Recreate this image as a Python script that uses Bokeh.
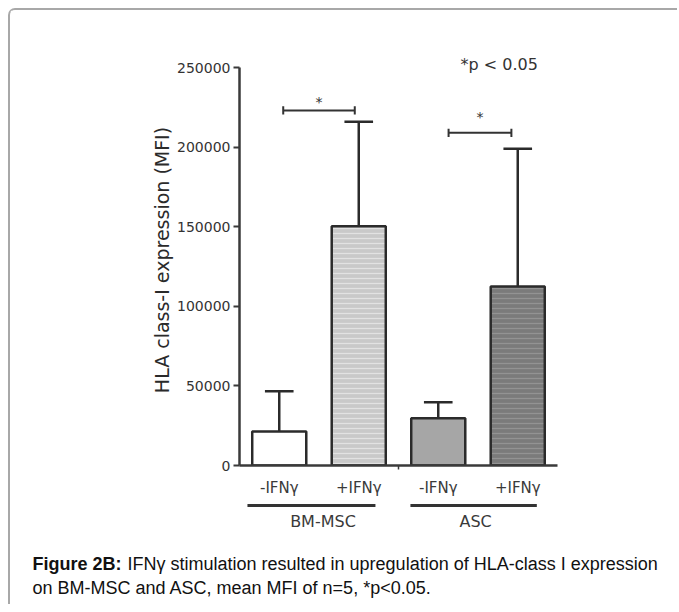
import numpy as np
from bokeh.plotting import figure
from bokeh.models import (Range1d, FixedTicker, LinearAxis, BasicTickFormatter,
                          ColumnDataSource)
from bokeh.layouts import column
from bokeh.core.properties import value
from bokeh.embed import file_html
from bokeh.resources import INLINE

# ---------------- data ----------------
conditions = ["-IFNγ", "+IFNγ", "-IFNγ", "+IFNγ"]
cell_types = ["BM-MSC", "ASC"]
mean_mfi = [21400, 150300, 29700, 112400]
sd_mfi = [25300, 65700, 10100, 86500]
y_ticks = [0, 50000, 100000, 150000, 200000, 250000]
sig_start = [1.05, 3.13]
sig_end = [1.95, 3.92]
sig_height = [223000, 209000]
star_height = [230500, 221000]
sig_note = "*p < 0.05"
y_title = "HLA class-I expression (MFI)"
caption_bold = "Figure 2B:"
caption_line1 = "IFNγ stimulation resulted in upregulation of HLA-class I expression"
caption_line2 = "on BM-MSC and ASC, mean MFI of n=5, *p<0.05."

# ---------------- styles ----------------
bar_fill = ["#ffffff", "#c9c9c9", "#a6a6a6", "#7b7b7b"]
bar_hatch = [" ", "-", " ", "-"]
bar_hatch_color = ["#ffffff", "#e2e2e2", "#a6a6a6", "#939393"]
dark = "#2b2b2b"
FONT = "DejaVu Sans"

W = 667
H1 = 489
H2 = 105
LEFT, TOP, BOTTOM = 229, 44, 34
frame_w = 318
frame_h = H1 - TOP - BOTTOM
RIGHT = W - LEFT - frame_w
x0, x1 = 0.5, 4.5
sc = frame_w / (x1 - x0)
y_px_per_unit = 398 / 250000
y_top = frame_h / y_px_per_unit

x = np.arange(1, len(mean_mfi) + 1, dtype=float)
mean = np.array(mean_mfi, dtype=float)
sd = np.array(sd_mfi, dtype=float)

p = figure(width=W, height=H1, x_range=Range1d(x0, x1), y_range=Range1d(0, y_top),
           output_backend="svg", toolbar_location=None,
           x_axis_type=None, y_axis_type=None,
           min_border_left=LEFT, min_border_right=RIGHT,
           min_border_top=TOP, min_border_bottom=BOTTOM)
p.outline_line_color = None
p.background_fill_color = "white"
p.border_fill_color = "white"
p.frame_align = False

# y axis
yaxis = LinearAxis(ticker=FixedTicker(ticks=y_ticks),
                   formatter=BasicTickFormatter(use_scientific=False),
                   bounds=(0, 250000), axis_label=y_title)
yaxis.axis_line_width = 2.5
yaxis.axis_line_color = "#3a3a3a"
yaxis.major_tick_out = 6
yaxis.major_tick_in = 0
yaxis.major_tick_line_width = 2
yaxis.major_tick_line_color = "#3a3a3a"
yaxis.minor_tick_line_color = None
yaxis.major_label_text_font = FONT
yaxis.major_label_text_font_size = "14px"
yaxis.major_label_text_color = "#333333"
yaxis.major_label_standoff = 3
yaxis.axis_label_text_font = FONT
yaxis.axis_label_text_font_size = "19px"
yaxis.axis_label_text_font_style = "normal"
yaxis.axis_label_text_color = "#2a2a2a"
yaxis.axis_label_standoff = 1
p.add_layout(yaxis, "left")

# x axis
xaxis = LinearAxis(ticker=FixedTicker(ticks=list(x), minor_ticks=[2.5]),
                   major_label_overrides={int(xi): c for xi, c in zip(x, conditions)})
xaxis.axis_line_width = 2.5
xaxis.axis_line_color = "#3a3a3a"
xaxis.major_tick_line_color = None
xaxis.major_tick_out = 0
xaxis.major_tick_in = 0
xaxis.minor_tick_out = 4
xaxis.minor_tick_in = 0
xaxis.minor_tick_line_width = 1.5
xaxis.minor_tick_line_color = "#3a3a3a"
xaxis.major_label_text_font = FONT
xaxis.major_label_text_font_size = "15px"
xaxis.major_label_text_color = "#3a3a3a"
xaxis.major_label_standoff = 9
p.add_layout(xaxis, "below")

# error bars (upper only)
cap = 0.18
p.segment(x0=x, y0=mean, x1=x, y1=mean + sd, line_color=dark, line_width=2.5)
p.segment(x0=x - cap, y0=mean + sd, x1=x + cap, y1=mean + sd, line_color=dark, line_width=2.5)

# bars
src = ColumnDataSource(dict(x=x, top=mean, fill=bar_fill, hatch=bar_hatch, hcol=bar_hatch_color))
p.vbar(x="x", top="top", bottom=0, width=0.68, source=src,
       fill_color="fill", hatch_pattern="hatch", hatch_color="hcol",
       hatch_scale=5, hatch_weight=1.2,
       line_color=dark, line_width=2.5)

# significance brackets
ss = np.array(sig_start); se = np.array(sig_end); sh = np.array(sig_height)
tick_h = 2600
p.segment(x0=ss, y0=sh, x1=se, y1=sh, line_color="#333333", line_width=2)
p.segment(x0=ss, y0=sh - tick_h, x1=ss, y1=sh + tick_h, line_color="#333333", line_width=2)
p.segment(x0=se, y0=sh - tick_h, x1=se, y1=sh + tick_h, line_color="#333333", line_width=2)
p.text(x=(ss + se) / 2, y=star_height, text=["*", "*"], text_align="center",
       text_baseline="middle", y_offset=3, text_font=value(FONT),
       text_font_size="14px", text_color="#333333")

p.text(x=[3.28], y=[252000], text=[sig_note], text_align="left", text_baseline="middle",
       text_font=value(FONT), text_font_size="16px", text_color="#333333")

# ---------------- lower figure: group labels + caption ----------------
x2_start = x0 - LEFT / sc
x2_end = x2_start + W / sc


def px2x(px):
    # page pixel (content origin at x=10) -> shared data scale
    return x2_start + (px - 10) / sc


p2 = figure(width=W, height=H2, x_range=Range1d(x2_start, x2_end), y_range=Range1d(H2, 0),
            output_backend="svg", toolbar_location=None,
            x_axis_type=None, y_axis_type=None, min_border=0)
p2.outline_line_color = None
p2.background_fill_color = "white"
p2.border_fill_color = "white"
p2.frame_align = False

grp_start = [0.60, 2.65]
grp_end = [2.21, 4.24]
grp_label_x = [1.55, 3.47]
p2.segment(x0=grp_start, y0=[6, 6], x1=grp_end, y1=[6, 6], line_color="#333333", line_width=3)
p2.text(x=grp_label_x, y=[22, 22], text=cell_types, text_align="center", text_baseline="middle",
        text_font=value(FONT), text_font_size="16px", text_color="#3a3a3a")

CAP_FONT = "Liberation Sans"
CAP_SIZE = "18px"
p2.text(x=[px2x(32)], y=[64], text=[caption_bold], text_align="left", text_baseline="middle",
        text_font=value(CAP_FONT), text_font_style="bold", text_font_size=CAP_SIZE,
        text_color="#111111")
p2.text(x=[px2x(127)], y=[64], text=[caption_line1], text_align="left", text_baseline="middle",
        text_font=value(CAP_FONT), text_font_size=CAP_SIZE, text_color="#111111")
p2.text(x=[px2x(32)], y=[88], text=[caption_line2], text_align="left", text_baseline="middle",
        text_font=value(CAP_FONT), text_font_size=CAP_SIZE, text_color="#111111")

layout = column(p, p2, spacing=0,
                styles={"margin-left": "8px", "margin-top": "8px",
                        "border-left": "2px solid #a8a8a8", "border-top": "2px solid #a8a8a8",
                        "border-top-left-radius": "7px"})

open("out.html", "w").write(file_html(layout, INLINE))
